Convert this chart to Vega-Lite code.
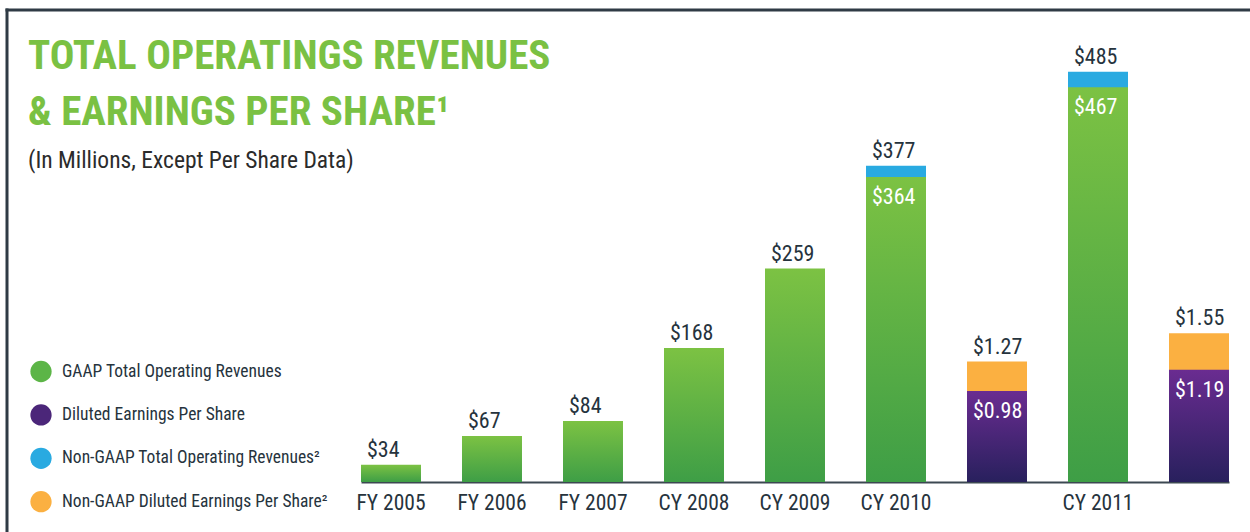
{
  "$schema": "https://vega.github.io/schema/vega-lite/v6.json",
  "width": 1243.5,
  "height": 522.5,
  "autosize": {"type": "none"},
  "padding": {"left": 6.5, "top": 9.5, "right": 0, "bottom": 0},
  "background": "white",
  "config": {
    "font": "Roboto Condensed, DejaVu Sans Condensed, sans-serif",
    "view": {"stroke": null}
  },
  "title": {
    "text": ["TOTAL OPERATINGS REVENUES", "& EARNINGS PER SHARE¹"],
    "subtitle": "(In Millions, Except Per Share Data)",
    "anchor": "start",
    "frame": "group",
    "orient": "top",
    "offset": 0,
    "fontSize": 41,
    "fontWeight": "bold",
    "color": "#7ac143",
    "lineHeight": 56,
    "subtitleFontSize": 23.5,
    "subtitleColor": "#2b2b2b",
    "subtitleFontWeight": "normal",
    "subtitlePadding": 15,
    "dx": 21.5,
    "dy": 163.5
  },
  "datasets": {
    "revenue": [
      {"cat": "FY 2005", "gaap": 34},
      {"cat": "FY 2006", "gaap": 67},
      {"cat": "FY 2007", "gaap": 84},
      {"cat": "CY 2008", "gaap": 168},
      {"cat": "CY 2009", "gaap": 259},
      {"cat": "CY 2010", "gaap": 364, "nongaap": 377},
      {"cat": "CY 2011", "gaap": 467, "nongaap": 485}
    ],
    "eps": [
      {"cat": "EPS 2010", "gaap": 0.98, "nongaap": 1.27},
      {"cat": "EPS 2011", "gaap": 1.19, "nongaap": 1.55}
    ]
  },
  "layer": [
    {
      "data": {"values": [{}]},
      "mark": {"type": "point", "opacity": 0},
      "encoding": {
        "x": {"datum": 0, "type": "quantitative", "scale": {"domain": [0, 1], "nice": false, "zero": false},
          "axis": {"orient": "top", "domain": true, "domainColor": "#2f3b45", "domainWidth": 3, "domainCap": "square", "ticks": false, "labels": false, "grid": false, "title": null}},
        "y": {"datum": 0, "type": "quantitative", "scale": {"domain": [0, 1], "nice": false, "zero": false},
          "axis": {"orient": "left", "domain": true, "domainColor": "#2f3b45", "domainWidth": 3, "domainCap": "square", "ticks": false, "labels": false, "grid": false, "title": null}}
      }
    },
    {
      "encoding": {
        "x": {
          "field": "cat", "type": "nominal", "sort": null,
          "scale": {"domain": ["FY 2005", "FY 2006", "FY 2007", "CY 2008", "CY 2009", "CY 2010", "EPS 2010", "CY 2011", "EPS 2011"], "range": [354.5, 1222.5], "paddingInner": 0.406, "paddingOuter": 0},
          "axis": {"orient": "bottom", "offset": -50, "title": null, "ticks": false, "grid": false, "domain": true, "domainColor": "#3c4852", "domainWidth": 2, "labelFontSize": 21.5, "labelColor": "#26333d", "labelPadding": 10, "labelAngle": 0, "labelExpr": "indexof(datum.label, 'EPS') == 0 ? '' : datum.label"}
        }
      },
      "layer": [
        {
          "data": {"name": "revenue"},
          "layer": [
            {
              "transform": [{"filter": "datum.nongaap != null"}],
              "mark": {"type": "bar"},
              "encoding": {
                "y": {"field": "nongaap", "type": "quantitative", "scale": {"domain": [14.1, 500], "range": [472.5, 49.1], "nice": false, "zero": false}, "axis": null},
                "y2": {"datum": 14.1},
                "fill": {"datum": "Non-GAAP Total Operating Revenues²", "type": "nominal",
                  "scale": {"domain": ["GAAP Total Operating Revenues", "Diluted Earnings Per Share", "Non-GAAP Total Operating Revenues²", "Non-GAAP Diluted Earnings Per Share²"],
                    "range": ["#5cb547", "#4b2679", "#29aae1", "#fbb041"]},
                  "legend": {"orient": "none", "legendX": 23.5, "legendY": 351, "title": null, "symbolType": "circle", "symbolSize": 452, "symbolStrokeWidth": 0, "symbolOpacity": 1, "labelFontSize": 17.5, "labelColor": "#26333d", "labelOffset": 10, "rowPadding": 21.4, "labelLimit": 500, "padding": 0, "direction": "vertical",
                    "encode": {"symbols": {"update": {"fill": {"signal": "datum.value === 'GAAP Total Operating Revenues' ? {gradient: 'linear', x1: 0, y1: 0, x2: 0, y2: 1, stops: [{offset: 0, color: '#7cc243'}, {offset: 1, color: '#3e9e46'}]} : datum.value === 'Diluted Earnings Per Share' ? {gradient: 'linear', x1: 0, y1: 0, x2: 0, y2: 1, stops: [{offset: 0, color: '#6a2c91'}, {offset: 1, color: '#28205d'}]} : scale('fill', datum.value)"}}}}}}
              }
            },
            {
              "mark": {"type": "bar", "fill": {"gradient": "linear", "x1": 0, "y1": 0, "x2": 0, "y2": 1, "stops": [{"offset": 0, "color": "#7cc243"}, {"offset": 1, "color": "#3e9e46"}]}},
              "encoding": {
                "y": {"field": "gaap", "type": "quantitative", "scale": {"domain": [14.1, 500], "range": [472.5, 49.1], "nice": false, "zero": false}, "axis": null},
                "y2": {"datum": 14.1}
              }
            },
            {
              "transform": [{"filter": "datum.nongaap == null"}],
              "mark": {"type": "text", "align": "left", "baseline": "alphabetic", "dx": -24, "dy": -8, "fontSize": 22, "color": "#26333d"},
              "encoding": {
                "y": {"field": "gaap", "type": "quantitative", "scale": {"domain": [14.1, 500], "range": [472.5, 49.1], "nice": false, "zero": false}, "axis": null},
                "text": {"field": "gaap", "type": "quantitative", "format": "$,.0f"}
              }
            },
            {
              "transform": [{"filter": "datum.nongaap != null"}],
              "mark": {"type": "text", "align": "left", "baseline": "alphabetic", "dx": -24, "dy": -8, "fontSize": 22, "color": "#26333d"},
              "encoding": {
                "y": {"field": "nongaap", "type": "quantitative", "scale": {"domain": [14.1, 500], "range": [472.5, 49.1], "nice": false, "zero": false}, "axis": null},
                "text": {"field": "nongaap", "type": "quantitative", "format": "$,.0f"}
              }
            },
            {
              "transform": [{"filter": "datum.nongaap != null"}],
              "mark": {"type": "text", "align": "left", "baseline": "top", "dx": -24, "dy": 10, "fontSize": 22, "color": "#ffffff"},
              "encoding": {
                "y": {"field": "gaap", "type": "quantitative", "scale": {"domain": [14.1, 500], "range": [472.5, 49.1], "nice": false, "zero": false}, "axis": null},
                "text": {"field": "gaap", "type": "quantitative", "format": "$,.0f"}
              }
            }
          ]
        },
        {
          "data": {"name": "eps"},
          "layer": [
            {
              "mark": {"type": "bar"},
              "encoding": {
                "y": {"field": "nongaap", "type": "quantitative", "scale": {"domain": [0.08, 2], "range": [472.5, 278.2], "nice": false, "zero": false}, "axis": null},
                "y2": {"datum": 0.08},
                "fill": {"datum": "Non-GAAP Diluted Earnings Per Share²", "type": "nominal",
                  "scale": {"domain": ["GAAP Total Operating Revenues", "Diluted Earnings Per Share", "Non-GAAP Total Operating Revenues²", "Non-GAAP Diluted Earnings Per Share²"],
                    "range": ["#5cb547", "#4b2679", "#29aae1", "#fbb041"]}}
              }
            },
            {
              "mark": {"type": "bar", "fill": {"gradient": "linear", "x1": 0, "y1": 0, "x2": 0, "y2": 1, "stops": [{"offset": 0, "color": "#6a2c91"}, {"offset": 1, "color": "#28205d"}]}},
              "encoding": {
                "y": {"field": "gaap", "type": "quantitative", "scale": {"domain": [0.08, 2], "range": [472.5, 278.2], "nice": false, "zero": false}, "axis": null},
                "y2": {"datum": 0.08}
              }
            },
            {
              "mark": {"type": "text", "align": "left", "baseline": "alphabetic", "dx": -24, "dy": -8, "fontSize": 22, "color": "#26333d"},
              "encoding": {
                "y": {"field": "nongaap", "type": "quantitative", "scale": {"domain": [0.08, 2], "range": [472.5, 278.2], "nice": false, "zero": false}, "axis": null},
                "text": {"field": "nongaap", "type": "quantitative", "format": "$.2f"}
              }
            },
            {
              "mark": {"type": "text", "align": "left", "baseline": "top", "dx": -24, "dy": 10, "fontSize": 22, "color": "#ffffff"},
              "encoding": {
                "y": {"field": "gaap", "type": "quantitative", "scale": {"domain": [0.08, 2], "range": [472.5, 278.2], "nice": false, "zero": false}, "axis": null},
                "text": {"field": "gaap", "type": "quantitative", "format": "$.2f"}
              }
            }
          ]
        }
      ],
      "resolve": {"scale": {"y": "independent"}}
    }
  ],
  "resolve": {"scale": {"x": "independent", "y": "independent"}}
}
